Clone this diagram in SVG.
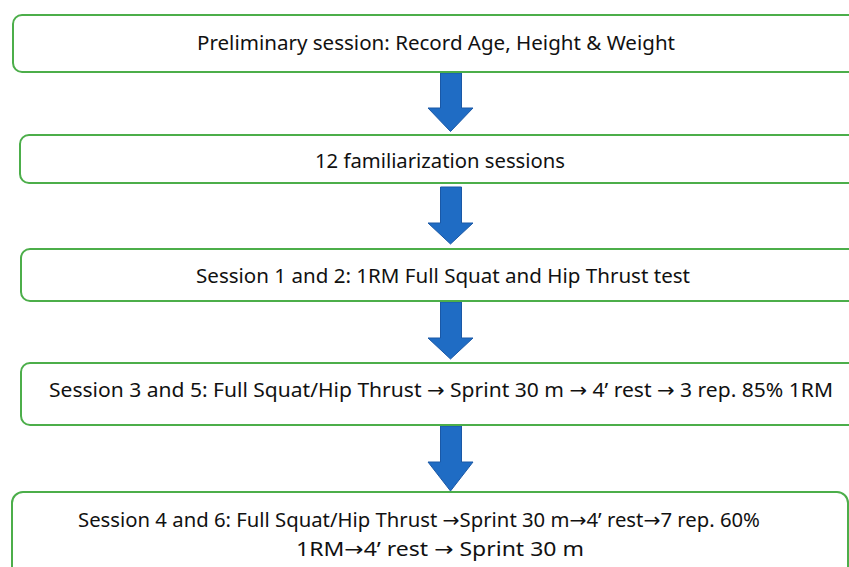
<svg xmlns="http://www.w3.org/2000/svg" width="849" height="567" viewBox="0 0 849 567">
  <defs>
    <style>
      .box { fill: #ffffff; stroke: #4cae4a; stroke-width: 2; }
      .lbl { font-family: "Noto Sans", "Open Sans", sans-serif; font-size: 20px; fill: #111111; text-anchor: middle; }
      .ar { font-family: "DejaVu Sans", sans-serif; }
      .arrow { fill: #1f6cc4; stroke: #1a58a6; stroke-width: 1; }
    </style>
  </defs>
  <rect width="849" height="567" fill="#ffffff"/>

  <g id="connectors">
    <path class="arrow" d="M 440.5 73 H 461.5 V 108 H 473 L 450.5 131.5 L 428 108 H 440.5 Z"/>
    <path class="arrow" d="M 440.5 187 H 461.5 V 223 H 473 L 450.5 244 L 428 223 H 440.5 Z"/>
    <path class="arrow" d="M 440.5 302 H 461.5 V 338 H 473 L 450.5 359 L 428 338 H 440.5 Z"/>
    <path class="arrow" d="M 440.5 426 H 461.5 V 462 H 473 L 450.5 491 L 428 462 H 440.5 Z"/>
  </g>

  <g id="node-preliminary">
    <rect class="box" x="13" y="15" width="860" height="57" rx="9"/>
    <text class="lbl" x="436" y="50" textLength="478" lengthAdjust="spacingAndGlyphs">Preliminary session: Record Age, Height &amp; Weight</text>
  </g>

  <g id="node-familiarization">
    <rect class="box" x="20" y="135" width="860" height="48" rx="9"/>
    <text class="lbl" x="440" y="168" textLength="250" lengthAdjust="spacingAndGlyphs">12 familiarization sessions</text>
  </g>

  <g id="node-session12">
    <rect class="box" x="21" y="249" width="860" height="52" rx="9"/>
    <text class="lbl" x="443" y="283" textLength="494" lengthAdjust="spacingAndGlyphs">Session 1 and 2: 1RM Full Squat and Hip Thrust test</text>
  </g>

  <g id="node-session35">
    <rect class="box" x="21" y="363" width="860" height="62" rx="9"/>
    <text class="lbl" x="441" y="397" textLength="784" lengthAdjust="spacingAndGlyphs">Session 3 and 5: Full Squat/Hip Thrust <tspan class="ar">→</tspan> Sprint 30 m <tspan class="ar">→</tspan> 4’ rest <tspan class="ar">→</tspan> 3 rep. 85% 1RM</text>
  </g>

  <g id="node-session46">
    <rect class="box" x="12" y="492" width="836" height="100" rx="11"/>
    <text class="lbl" x="419" y="527" textLength="682" lengthAdjust="spacingAndGlyphs">Session 4 and 6: Full Squat/Hip Thrust <tspan class="ar">→</tspan>Sprint 30 m<tspan class="ar">→</tspan>4’ rest<tspan class="ar">→</tspan>7 rep. 60%</text>
    <text class="lbl" x="440" y="556" textLength="288" lengthAdjust="spacingAndGlyphs">1RM<tspan class="ar">→</tspan>4’ rest <tspan class="ar">→</tspan> Sprint 30 m</text>
  </g>
</svg>
